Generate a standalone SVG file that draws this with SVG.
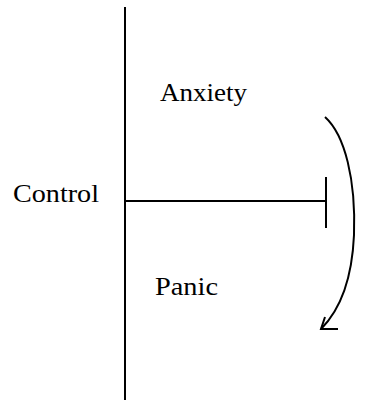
<svg xmlns="http://www.w3.org/2000/svg" width="370" height="402" viewBox="0 0 370 402">
<style>
.lbl{font-family:"Liberation Serif","Times New Roman",serif;font-size:26px;fill:#000}
.ln{stroke:#000;stroke-width:2;fill:none;stroke-linecap:butt}
</style>
<rect width="370" height="402" fill="#fff"/>
<g id="control"><text class="lbl" x="13" y="202" textLength="86" lengthAdjust="spacingAndGlyphs">Control</text></g>
<g id="anxiety"><text class="lbl" x="160" y="101" textLength="87" lengthAdjust="spacingAndGlyphs">Anxiety</text></g>
<g id="panic"><text class="lbl" x="155" y="295" textLength="63" lengthAdjust="spacingAndGlyphs">Panic</text></g>
<g id="connectors">
<line class="ln" x1="125" y1="7" x2="125" y2="400"/>
<line class="ln" x1="125" y1="201" x2="326" y2="201"/>
<line class="ln" x1="326" y1="177" x2="326" y2="228"/>
<path class="ln" d="M325,117 C345,135 356,180 354,235 C352,280 340,310 321,329"/>
<path class="ln" d="M325,317 L321,329 L338,329"/>
</g>
</svg>
